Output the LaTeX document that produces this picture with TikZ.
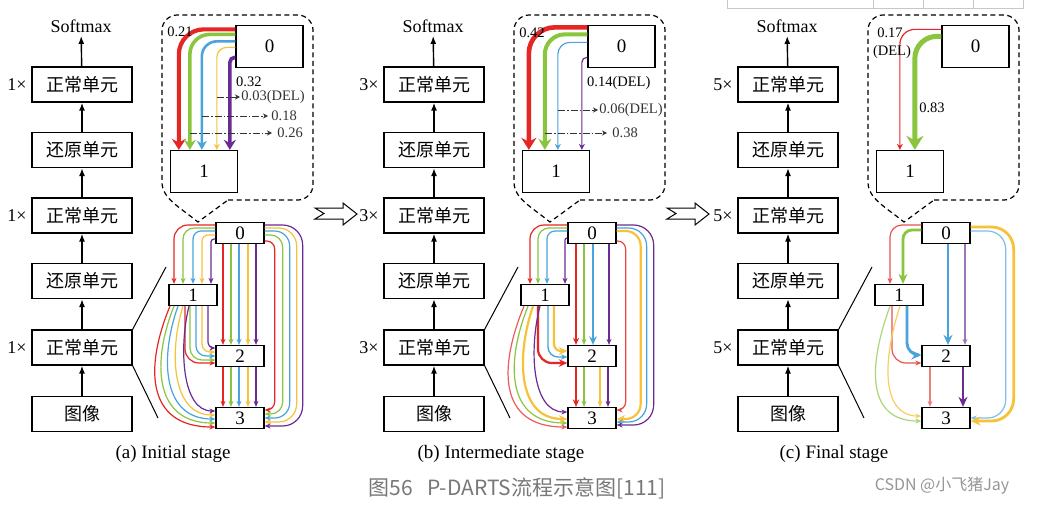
\documentclass[tikz,border=0pt]{standalone}
\usepackage{fontspec}
\setmainfont{Liberation Serif}
\newfontfamily\cjk{Noto Sans CJK SC}
\usetikzlibrary{arrows.meta,calc}
\definecolor{cr}{RGB}{228,38,36}
\definecolor{cg}{RGB}{138,197,62}
\definecolor{cb}{RGB}{72,164,218}
\definecolor{cy}{RGB}{246,194,58}
\definecolor{cp}{RGB}{106,44,146}
\definecolor{capgray}{RGB}{120,120,120}
\definecolor{wmgray}{RGB}{150,150,150}
\begin{document}
\begin{tikzpicture}[x=1pt,y=-1pt,
  stackbox/.style={draw,line width=1.2pt,minimum width=100pt,minimum height=35pt,inner sep=0pt,font=\cjk\fontsize{18}{18}\selectfont},
  uparrow/.style={line width=1.4pt,-{Latex[length=8pt,width=6pt]}},
  mult/.style={font=\fontsize{18}{18}\selectfont,inner sep=0pt},
  txt/.style={font=\fontsize{18}{18}\selectfont},
  captext/.style={font=\fontsize{19}{19}\selectfont},
  cellbox/.style={draw,line width=1.3pt,fill=white,minimum width=67pt,minimum height=42pt,inner sep=0pt,font=\fontsize{19}{19}\selectfont},
  dagbox/.style={draw,line width=1.3pt,fill=white,minimum width=48pt,minimum height=21pt,inner sep=0pt,font=\fontsize{19}{19}\selectfont},
  dag/.style={line width=1.2pt,-{Stealth[length=3pt 2.5,width=2pt 2.5]}},
  numlab/.style={font=\fontsize{14.5}{15}\selectfont,inner sep=0pt},
  dashdot/.style={line width=0.8pt,black!80,dash pattern=on 7pt off 2pt on 1.5pt off 2pt,-{Stealth[length=5pt,width=5pt]}},
  callout/.style={line width=1.2pt,dash pattern=on 5pt off 3.5pt},
  link/.style={line width=1pt},
  hollow/.style={draw,line width=1pt,fill=white}
]
\useasboundingbox (0,0) rectangle (1038,504);
\fill[white] (0,0) rectangle (1038,504);

% table fragment top right
\draw[black!22,line width=1pt] (727,0) -- (727,8) -- (1023,8) -- (1023,0);
\foreach \x in {873,923,973} \draw[black!22,line width=1pt] (\x,0) -- (\x,8);

% common parts of the three panels
\foreach \sh/\m/\p in {0/1/a,352/3/b,706/5/c}{
\begin{scope}[xshift=\sh pt]
  \node[stackbox] (\p s1) at (82,84.5) {正常单元};
  \node[stackbox] (\p s2) at (82,150) {还原单元};
  \node[stackbox] (\p s3) at (82,215.5) {正常单元};
  \node[stackbox] (\p s4) at (82,281) {还原单元};
  \node[stackbox] (\p s5) at (82,347.5) {正常单元};
  \node[stackbox] (\p s6) at (82,414) {图像};
  \node[txt] (\p sm) at (81,26) {Softmax};
  \node[mult] (\p m1) at (17,85) {\m{}×};
  \node[mult] (\p m3) at (17,216) {\m{}×};
  \node[mult] (\p m5) at (17,348) {\m{}×};
  \draw[uparrow] (\p s1) -- (\p sm);
  \foreach \i/\j in {1/2,2/3,3/4,4/5,5/6} \draw[uparrow] (\p s\j) -- (\p s\i);
  \coordinate (\p l1) at (166,267);
  \coordinate (\p l2) at (158,418);
  \draw[link] (\p s5.north east) -- (\p l1);
  \draw[link] (\p s5.south east) -- (\p l2);
  % callout
  \draw[callout] (228,200) -- (298,200) .. controls (306,200) and (313,193) .. (313,185)
     -- (313,30) .. controls (313,22) and (306,15) .. (298,15)
     -- (177,15) .. controls (169,15) and (162,22) .. (162,30)
     -- (162,182) .. controls (162,198) and (178,206) .. (198,222) -- cycle;
  \node[cellbox] (\p c0) at (269.5,46.5) {0};
  \node[cellbox] (\p c1) at (204,171.5) {1};
  \node[dagbox] (\p0) at (240,233) {0};
  \node[dagbox] (\p1) at (193,295) {1};
  \node[dagbox] (\p2) at (240,356) {2};
  \node[dagbox] (\p3) at (240,418) {3};
\end{scope}}

% hollow arrows between panels
\foreach \sh in {0,352}{
\begin{scope}[xshift=\sh pt]
  \draw[hollow] (315,208) -- (343,208) -- (343,203) -- (357,214) -- (343,225) -- (343,219) -- (315,219) -- (324,213.5) -- cycle;
\end{scope}}

% ================= panel (a) cell
\draw[color=cr,line width=4.2pt,rounded corners=25,-{Stealth[length=11pt,width=14pt]}] ($(ac0.north west)+(0,4.5)$) -| ($(ac1.north west)+(9,0)$);
\draw[color=cg,line width=3.6pt,rounded corners=20,-{Stealth[length=10pt,width=12pt]}] ($(ac0.north west)+(0,9.5)$) -| ($(ac1.north west)+(20,0)$);
\draw[color=cb,line width=2.6pt,rounded corners=15,-{Stealth[length=9pt,width=10pt]}] ($(ac0.north west)+(0,16.5)$) -| ($(ac1.north west)+(32,0)$);
\draw[color=cy,line width=1.2pt,rounded corners=10,-{Stealth[length=6pt,width=6pt]}] ($(ac0.north west)+(0,22.5)$) -| ($(ac1.north west)+(47,0)$);
\draw[color=cp,line width=3.6pt,rounded corners=5,-{Stealth[length=10pt,width=12pt]}] ($(ac0.north west)+(0,32.5)$) -| ($(ac1.north west)+(60,0)$);
\node[numlab] (al1) at (180,32) {0.21};
\node[numlab,anchor=west] (al2) at (236,82) {0.32};
\draw[dashdot] (217,97) -- (240,97) node[numlab,right=1pt] {0.03(DEL)};
\draw[dashdot] (202,116) -- (268,116) node[numlab,right=3pt] {0.18};
\draw[dashdot] (190,133) -- (272,133) node[numlab,right=5pt] {0.26};

% ================= panel (a) DAG
\foreach \col/\sy/\ex/\r in {cr/-8/-19/14, cg/-5/-10/11, cb/-2/0/8, cy/2/9/6, cp/6/18/3}
  \draw[dag,color=\col,rounded corners=\r] ($(a0.west)+(0,\sy)$) -| ($(a1.north)+(\ex,0)$);
\foreach \col/\dx in {cr/-17, cg/-9, cb/-1, cy/8, cp/16}{
  \draw[dag,color=\col] ($(a0.south)+(\dx,0)$) -- ($(a2.north)+(\dx,0)$);
  \draw[dag,color=\col] ($(a2.south)+(\dx,0)$) -- ($(a3.north)+(\dx,0)$);}
\foreach \col/\sy/\vx/\ey/\r in {cr/8/10/-8/8, cg/2/18/-4/12, cb/-2/25/0/15, cy/-5/32/4/18, cp/-8/38/8/20}
  \draw[dag,color=\col,rounded corners=\r] ($(a0.east)+(0,\sy)$) -| ($(a3.east)+(\vx,\ey)$) -- ($(a3.east)+(0,\ey)$);
\foreach \col/\sx/\ey/\r in {cr/-8/7/14, cg/-3/4/12, cb/3/0/10, cy/9/-4/8, cp/15/-8/6}
  \draw[dag,color=\col,rounded corners=\r] ($(a1.south)+(\sx,0)$) |- ($(a2.west)+(0,\ey)$);
\foreach \col/\sx/\a/\b/\c/\ey in {cr/-23/-25/60/-70/9, cg/-19/-22/55/-62/5, cb/-15/-18/50/-54/1, cy/-10/-14/45/-44/-3, cp/-4/-10/40/-34/-7}
  \draw[dag,color=\col] ($(a1.south)+(\sx,0)$) .. controls +(\a,\b) and +(\c,0) .. ($(a3.west)+(0,\ey)$);

% ================= panel (b) cell
\draw[color=cr,line width=4.6pt,rounded corners=26,-{Stealth[length=12pt,width=15pt]}] ($(bc0.north west)+(0,2.5)$) -| ($(bc1.north west)+(7,0)$);
\draw[color=cg,line width=4pt,rounded corners=20,-{Stealth[length=11pt,width=13pt]}] ($(bc0.north west)+(0,9.5)$) -| ($(bc1.north west)+(23,0)$);
\draw[color=cb,line width=1.2pt,rounded corners=12,-{Stealth[length=6pt,width=6pt]}] ($(bc0.north west)+(0,17.5)$) -| ($(bc1.north west)+(36,0)$);
\draw[color=cp,line width=1.2pt,rounded corners=5,-{Stealth[length=6pt,width=6pt]}] ($(bc0.north west)+(0,32.5)$) -| ($(bc1.north west)+(60,0)$);
\begin{scope}[xshift=352pt]
  \node[numlab] (bl1) at (180,33) {0.42};
  \node[numlab,anchor=west] (bl2) at (235,83) {0.14(DEL)};
  \draw[dashdot] (206,110) -- (246,110) node[numlab,right=1pt] {0.06(DEL)};
  \draw[dashdot] (193,133) -- (255,133) node[numlab,right=5pt] {0.38};
\end{scope}

% ================= panel (b) DAG
\foreach \col/\sy/\ex/\r in {cr/-8/-15/14, cg/-5/-7/11, cb/-2/2/8, cp/5/20/2}
  \draw[dag,color=\col,rounded corners=\r] ($(b0.west)+(0,\sy)$) -| ($(b1.north)+(\ex,0)$);
\foreach \col/\dx/\w in {cr/-16/1.6, cg/-8/1.2, cb/1/2.2, cp/17/1.2}
  \draw[dag,color=\col,line width=\w pt] ($(b0.south)+(\dx,0)$) -- ($(b2.north)+(\dx,0)$);
\foreach \col/\dx/\w in {cr/-16/1.8, cg/-8/1.2, cy/8/1.2, cp/16/1.2}
  \draw[dag,color=\col,line width=\w pt] ($(b2.south)+(\dx,0)$) -- ($(b3.north)+(\dx,0)$);
\foreach \col/\sy/\vx/\ey/\r/\w in {cr!85/8/9/-8/8/1.2, cy/-2/24/1/15/2.2, cb/-5/30/4/18/1.2, cp/-8/37/7/20/1.2}
  \draw[dag,color=\col,line width=\w pt,rounded corners=\r] ($(b0.east)+(0,\sy)$) -| ($(b3.east)+(\vx,\ey)$) -- ($(b3.east)+(0,\ey)$);
\foreach \col/\sx/\ey/\r/\w in {cr/-7/7/14/2.2, cb/3/1/10/1.4, cy/9/-5/7/2.2}
  \draw[dag,color=\col,line width=\w pt,rounded corners=\r] ($(b1.south)+(\sx,0)$) |- ($(b2.west)+(0,\ey)$);
\foreach \col/\sx/\a/\b/\c/\ey/\w in {cr!75/-21/-25/60/-70/9/1.2, cg/-17/-22/55/-62/5/1.2, cy/-12/-17/50/-50/1/2.2, cp/-5/-11/42/-36/-6/1.2}
  \draw[dag,color=\col,line width=\w pt] ($(b1.south)+(\sx,0)$) .. controls +(\a,\b) and +(\c,0) .. ($(b3.west)+(0,\ey)$);

% ================= panel (c) cell
\draw[color=cr,line width=1.2pt,rounded corners=15,-{Stealth[length=6pt,width=6pt]}] ($(cc0.north west)+(0,4.5)$) -| ($(cc1.north west)+(24,0)$);
\draw[color=cg,line width=5pt,rounded corners=22,-{Stealth[length=14pt,width=17pt]}] ($(cc0.north west)+(0,11.5)$) -| ($(cc1.north west)+(39,0)$);
\begin{scope}[xshift=706pt]
  \node[numlab] (cl1) at (184,33) {0.17};
  \node[numlab] (cl2) at (186,52) {(DEL)};
  \node[numlab] (cl3) at (226,108) {0.83};
\end{scope}

% ================= panel (c) DAG
\foreach \col/\sy/\ex/\r/\w in {cr!80/-8/-9/12/1.2, cg/-3/4/9/2.8}
  \draw[dag,color=\col,line width=\w pt,rounded corners=\r] ($(c0.west)+(0,\sy)$) -| ($(c1.north)+(\ex,0)$);
\foreach \col/\dx/\w in {cb/2/2.8, cp!65/19/1.2}
  \draw[dag,color=\col,line width=\w pt] ($(c0.south)+(\dx,0)$) -- ($(c2.north)+(\dx,0)$);
\foreach \col/\dx/\w in {cr!60/-16/1.2, cp/17/2.8}
  \draw[dag,color=\col,line width=\w pt] ($(c2.south)+(\dx,0)$) -- ($(c3.north)+(\dx,0)$);
\foreach \col/\sy/\vx/\ey/\r/\w in {cb!70/-2/35/0/18/1.2, cy/-6/43/3/22/2.8}
  \draw[dag,color=\col,line width=\w pt,rounded corners=\r] ($(c0.east)+(0,\sy)$) -| ($(c3.east)+(\vx,\ey)$) -- ($(c3.east)+(0,\ey)$);
\foreach \col/\sx/\ey/\r/\w in {cr!80/-7/7/14/1.2, cb/8/-1/12/2.8}
  \draw[dag,color=\col,line width=\w pt,rounded corners=\r] ($(c1.south)+(\sx,0)$) |- ($(c2.west)+(0,\ey)$);
\foreach \col/\sx/\a/\b/\c/\ey/\w in {cg!70/-9/-22/60/-55/3/1.2, cy!80/1/-18/55/-40/-2/1.2}
  \draw[dag,color=\col,line width=\w pt] ($(c1.south)+(\sx,0)$) .. controls +(\a,\b) and +(\c,0) .. ($(c3.west)+(0,\ey)$);

% captions
\node[captext] (capa) at (173,454) {(a) Initial stage};
\node[captext] (capb) at (501,454) {(b) Intermediate stage};
\node[captext] (capc) at (834,454) {(c) Final stage};
\node[font=\cjk\fontsize{21}{21}\selectfont,text=capgray] (title) at (517,488) {图56\hspace{0.7em}P-DARTS流程示意图[111]};
\node[font=\cjk\fontsize{16}{16}\selectfont,text=wmgray] (wm) at (942,486) {CSDN @小飞猪Jay};
\end{tikzpicture}
\end{document}
